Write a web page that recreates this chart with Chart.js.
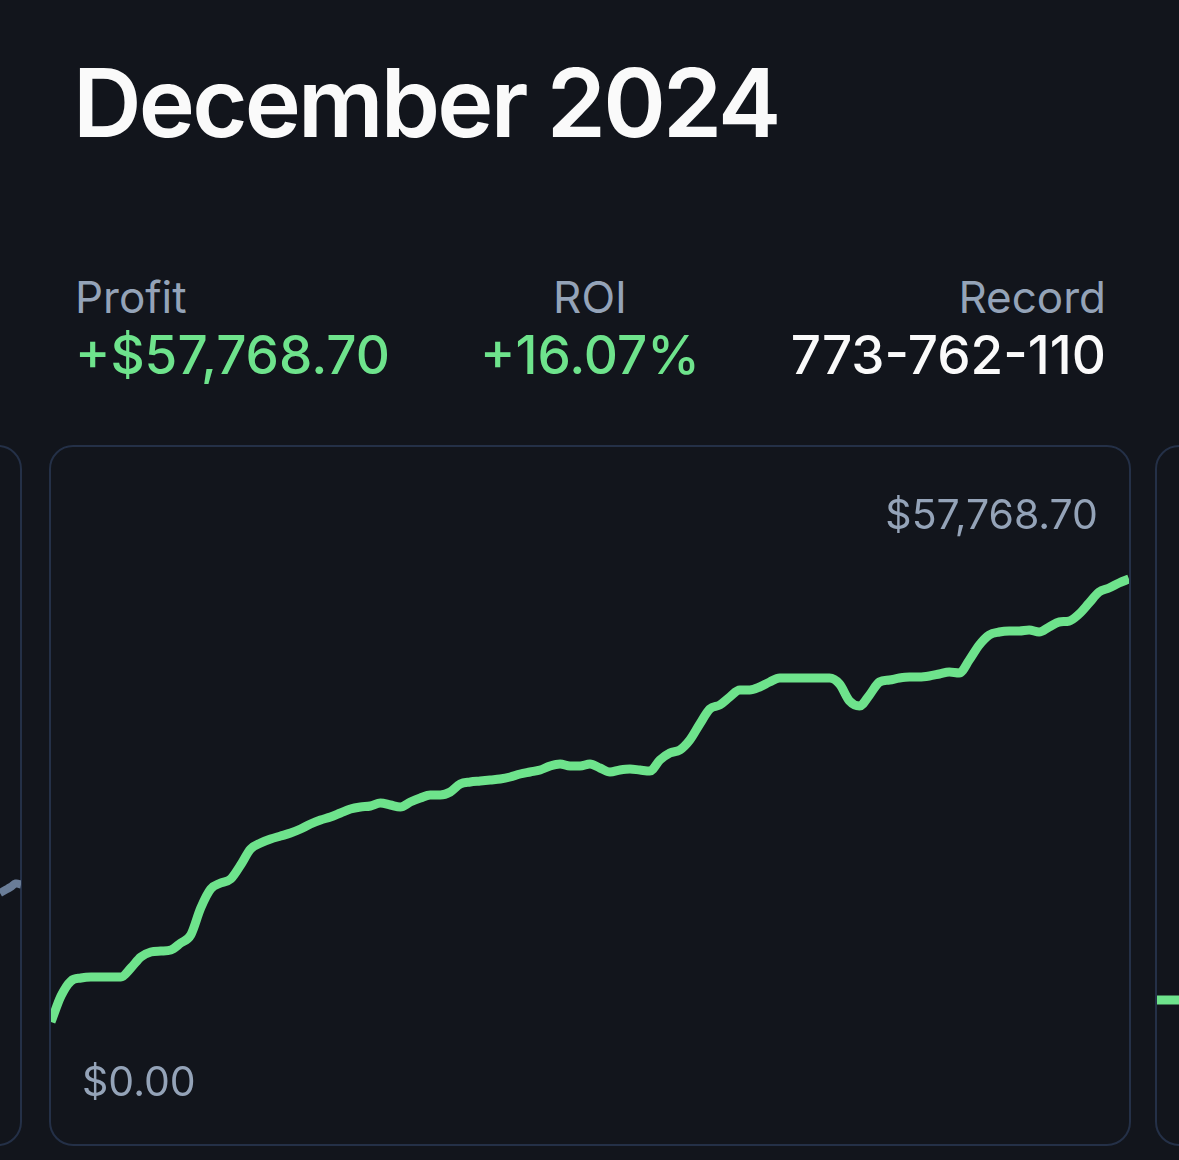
<!DOCTYPE html>
<html>
<head>
<meta charset="utf-8">
<script src="https://cdn.jsdelivr.net/npm/chart.js@4/dist/chart.umd.min.js"></script>
<style>
  html, body { margin: 0; padding: 0; }
  body {
    width: 1179px; height: 1160px; overflow: hidden; position: relative;
    background: #12151c; font-family: Inter, "Liberation Sans", sans-serif;
  }
  .txt { position: absolute; white-space: nowrap; line-height: 1; }
  #title { left: 73px; top: 55px; font-size: 95px; font-weight: 600; color: #fafafa; letter-spacing: -2.8px; }
  .lbl { top: 275px; font-size: 44px; color: #94a3b8; }
  .val { top: 329px; font-size: 53px; font-weight: 500; }
  .green { color: #6ee38c; }
  .card {
    position: absolute; top: 445px; width: 1078px; height: 697px;
    border: 2px solid #243047; border-radius: 24px; overflow: hidden; background: #12151c;
  }
  .card canvas { position: absolute; left: 0; top: 0; }
  .mini { position: absolute; }
</style>
</head>
<body>
<div class="txt" id="title">December 2024</div>

<div class="txt lbl" style="left:75px">Profit</div>
<div class="txt lbl" style="left:590px; transform:translateX(-50%)">ROI</div>
<div class="txt lbl" style="right:73px">Record</div>

<div class="txt val green" style="left:75px">+$57,768.70</div>
<div class="txt val green" style="left:590px; transform:translateX(-50%)">+16.07%</div>
<div class="txt val" style="right:73px; color:#fafafa">773-762-110</div>

<div class="card" style="left:-1060px"></div>
<div class="card" style="left:1155px"></div>

<div class="card" style="left:49px">
  <canvas id="profitChart" width="1078" height="697"></canvas>
</div>
<div class="txt" style="right:81px; top:494px; font-size:41px; color:#94a3b8">$57,768.70</div>
<div class="txt" style="left:82px; top:1061px; font-size:41px; color:#94a3b8">$0.00</div>

<div class="mini" style="left:0; top:870px; width:21px; height:30px"><canvas id="prevChart" width="21" height="30"></canvas></div>
<div class="mini" style="left:1157px; top:985px; width:22px; height:30px"><canvas id="nextChart" width="22" height="30"></canvas></div>

<script>
// cumulative profit through December
var profit = [
  0, 3390, 5346, 5738, 5868, 5868, 5868, 5868, 7042, 8476,
  9128, 9258, 9389, 10302, 11345, 14866, 17343, 18126, 18647, 20473,
  22559, 23342, 23863, 24254, 24646, 25167, 25819, 26341, 26732, 27254,
  27775, 28036, 28166, 28558, 28297, 28036, 28688, 29210, 29601, 29601,
  29992, 31035, 31296, 31426, 31557, 31687, 31948, 32339, 32600, 32861,
  33382, 33643, 33382, 33382, 33643, 33122, 32600, 32861, 32991, 32861,
  32730, 34165, 35078, 35469, 36773, 38859, 40815, 41337, 42380, 43293,
  43293, 43684, 44336, 44858, 44858, 44858, 44858, 44858, 44858, 44075,
  41858, 41206, 42641, 44336, 44597, 44858, 44988, 44988, 45118, 45379,
  45640, 45510, 47205, 49161, 50465, 50856, 50986, 50986, 51117, 50856,
  51508, 52160, 52290, 53203, 54638, 56072, 56594, 57246, 57768.70
];
var profitMin = 0;
var profitMax = 57768.70;

// tails of the neighbouring month cards
var prevTail = [7, 10, 13, 16.5, 15.5];
var nextHead = [15, 15];

var green = "#6ee38c";

function indexLabels(arr) {
  return arr.map(function (v, i) { return i + 1; });
}

new Chart("profitChart", {
  type: "line",
  data: {
    labels: indexLabels(profit),
    datasets: [{
      data: profit,
      borderColor: green,
      borderWidth: 9,
      pointRadius: 0,
      tension: 0.4,
      cubicInterpolationMode: "monotone",
      borderJoinStyle: "round",
      clip: false
    }]
  },
  options: {
    responsive: false,
    animation: false,
    layout: { padding: { top: 132, bottom: 122, left: 0, right: 0 } },
    plugins: { legend: { display: false }, tooltip: { enabled: false } },
    scales: {
      x: { display: false, offset: false },
      y: { display: false, min: profitMin, max: profitMax }
    }
  }
});

new Chart("prevChart", {
  type: "line",
  data: {
    labels: indexLabels(prevTail),
    datasets: [{ data: prevTail, borderColor: "#6a7d98", borderWidth: 8, pointRadius: 0, tension: 0.4, clip: false }]
  },
  options: {
    responsive: false, animation: false,
    plugins: { legend: { display: false }, tooltip: { enabled: false } },
    scales: { x: { display: false, offset: false }, y: { display: false, min: 0, max: 30 } }
  }
});

new Chart("nextChart", {
  type: "line",
  data: {
    labels: indexLabels(nextHead),
    datasets: [{ data: nextHead, borderColor: green, borderWidth: 9, pointRadius: 0, clip: false }]
  },
  options: {
    responsive: false, animation: false,
    plugins: { legend: { display: false }, tooltip: { enabled: false } },
    scales: { x: { display: false, offset: false }, y: { display: false, min: 0, max: 30 } }
  }
});
</script>
</body>
</html>
